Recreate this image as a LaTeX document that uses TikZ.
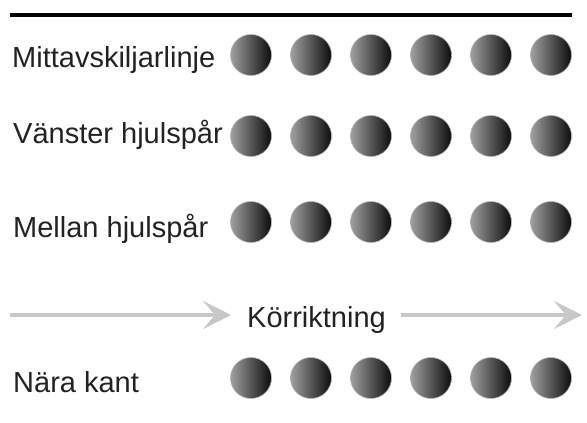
\documentclass[tikz,border=0pt]{standalone}
\usepackage{fontspec}
\setmainfont{Liberation Sans}
\usepackage{xcolor}
\usepackage{tikz}
\usetikzlibrary{arrows.meta,positioning,calc}
\definecolor{Xink}{RGB}{34,34,34}
\definecolor{Xarrow}{RGB}{200,200,200}
\definecolor{Xlight}{RGB}{160,160,160}
\definecolor{Xdark}{RGB}{12,12,12}
\tikzset{
  rowlabel/.style={anchor=base west, inner sep=0pt, text=Xink, font=\fontsize{29}{34}\selectfont},
  bead/.style={circle, inner sep=0pt, minimum size=41pt, left color=Xlight, right color=Xdark, draw=gray!60, line width=0.6pt},
  dirarrow/.style={-{Stealth[length=28pt, width=28pt, inset=12pt]}, line width=4.5pt, draw=Xarrow},
  centreline/.style={line width=4.5pt, draw=black}
}
\begin{document}
\begin{tikzpicture}[x=1pt, y=-1pt]
  \useasboundingbox (0,0) rectangle (587,423);

  % centre line at the top
  \coordinate (lineL) at (10,15);
  \coordinate (lineR) at (572,15);
  \draw[centreline] (lineL) -- (lineR);

  % row labels
  \node[rowlabel] (mitt) at (12,67) {Mittavskiljarlinje};
  \node[rowlabel] (vanster) at (13,143) {Vänster hjulspår};
  \node[rowlabel] (mellan) at (13,237) {Mellan hjulspår};
  \node[rowlabel] (nara) at (13,392) {Nära kant};

  % beads, six per row
  \foreach \r/\y in {a/55, b/136, c/222, d/378} {
    \foreach \i in {0,...,5} {
      \node[bead] (\r\i) at (251+60*\i,\y) {};
    }
  }

  % driving direction
  \node[rowlabel] (dir) at (247,327) {Körriktning};
  \coordinate (dirL) at (10,315);
  \coordinate (dirR) at (582,315);
  \draw[dirarrow, shorten >=16pt] (dirL) -- (dirL -| dir.west);
  \draw[dirarrow, shorten <=15pt] (dirR -| dir.east) -- (dirR);
\end{tikzpicture}
\end{document}
